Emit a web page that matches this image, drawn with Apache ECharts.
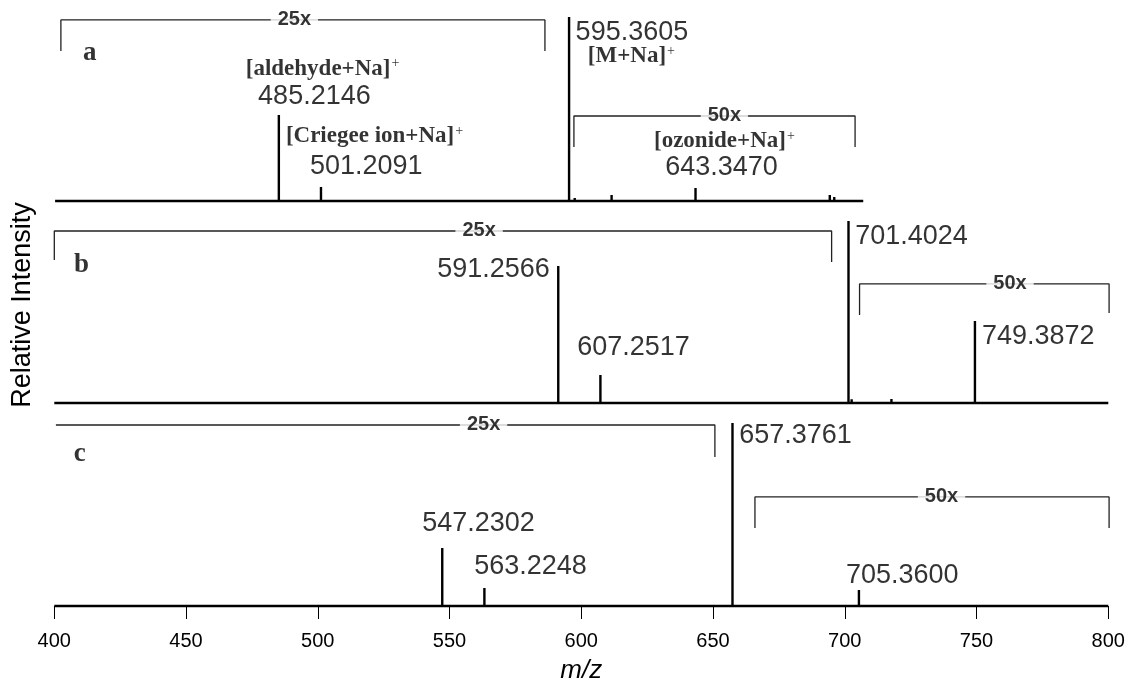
<!DOCTYPE html>
<html><head><meta charset="utf-8">
<script src="https://cdn.jsdelivr.net/npm/echarts@6/dist/echarts.min.js"></script>
<style>html,body{margin:0;padding:0;background:#fff}#c{width:1128px;height:681px}</style>
</head><body><div id="c"></div><script>
// ---------- data ----------
const xTicks = [400, 450, 500, 550, 600, 650, 700, 750, 800];

// panel a (relative displayed intensity, % of panel)
const aMz  = [426.8, 455.3, 485.2146, 501.2091, 595.3605, 597.5, 599.5, 611.5, 643.3470, 694.3, 696.0];
const aInt = [0.8, 0.8, 46.7, 7.6, 100, 1.6, 1.0, 3.3, 7.1, 3.3, 2.2];
const aSpan = [400.3, 707];

// panel b
const bMz  = [425.0, 480.0, 590.3, 591.2566, 606.3, 607.2517, 701.4024, 702.6, 717.7, 749.3872, 788.6];
const bInt = [0.8, 1.0, 0.8, 75.3, 1.0, 15.4, 100, 2.0, 2.2, 45.0, 1.0];
const bSpan = [400, 800];

// panel c
const cMz  = [410.0, 430.0, 470.0, 547.2302, 563.2248, 657.3761, 705.3600, 780.0];
const cInt = [0.6, 0.6, 0.6, 31.7, 9.8, 100, 8.7, 0.5];
const cSpan = [400, 800];

// annotations: peak labels and ion names
const aPeakText = ['485.2146', '501.2091', '595.3605', '643.3470'];
const aIonText  = ['[aldehyde+Na]', '[Criegee ion+Na]', '[M+Na]', '[ozonide+Na]'];
const bPeakText = ['591.2566', '607.2517', '701.4024', '749.3872'];
const cPeakText = ['547.2302', '563.2248', '657.3761', '705.3600'];
const panelNames = ['a', 'b', 'c'];
const zoomText = ['25x', '50x'];

// ---------- layout (positions in data units of each panel) ----------
const aPeakPos = [[498.9, 56.5], [518.6, 18.5], [619.4, 91.3], [653.4, 17.9]];
const aIonPos  = [[502.0, 71.7], [521.7, 34.8], [619.2, 78.3], [654.5, 32.1]];
const bPeakPos = [[566.9, 73.1], [620.0, 30.2], [725.5, 91.2], [773.6, 36.3]];
const cPeakPos = [[561.2, 44.8], [580.9, 21.3], [681.5, 92.9], [722.0, 16.4]];
const namePos  = [[413.6, 80.4], [410.5, 75.8], [409.8, 82.5]];
const brackets = [
  // [panel, path, label position, text index]
  [0, [[402.5, 81.5], [402.5, 98.4], [586.2, 98.4], [586.2, 81.5]], [491.3, 98.4], 0],
  [0, [[597.2, 29.3], [597.2, 46.2], [703.9, 46.2], [703.9, 29.3]], [654.5, 46.2], 1],
  [1, [[400.0, 78.6], [400.0, 94.5], [695.0, 94.5], [695.0, 77.5]], [561.4, 94.5], 0],
  [1, [[705.6, 48.4], [705.6, 65.4], [800.3, 65.4], [800.3, 49.5]], [762.9, 65.4], 1],
  [2, [[400.6, 98.9], [650.7, 98.9], [650.7, 81.4]], [563.1, 98.9], 0],
  [2, [[665.9, 42.6], [665.9, 59.6], [800.3, 59.6], [800.3, 42.6]], [736.9, 59.6], 1]
];

const SANS = '"Liberation Sans", Arial, sans-serif';
const SERIF = '"Liberation Serif", "Times New Roman", serif';

function sticks(mz, inten, span) {
  const pts = [[span[0], 0]];
  mz.forEach((m, i) => { pts.push([m, 0], [m, inten[i]], [m, 0]); });
  pts.push([span[1], 0]);
  return pts;
}

const grids = [
  { left: 54.3, right: 19.7, top: 17, height: 184, outerBoundsMode: 'none', containLabel: false },
  { left: 54.3, right: 19.7, top: 221, height: 182, outerBoundsMode: 'none', containLabel: false },
  { left: 54.3, right: 19.7, top: 423, height: 183, outerBoundsMode: 'none', containLabel: false }
];

const xAxes = [0, 1, 2].map(i => ({
  type: 'value', gridIndex: i, min: xTicks[0], max: xTicks[xTicks.length - 1],
  interval: xTicks[1] - xTicks[0], show: i === 2, offset: i === 2 ? 4 : 0,
  axisLine: { show: true, lineStyle: { color: '#000', width: 1 } },
  axisTick: { show: true, inside: false, length: 13, lineStyle: { color: '#000', width: 1 } },
  axisLabel: { show: true, color: '#000', fontFamily: SANS, fontSize: 20, margin: 21 },
  splitLine: { show: false },
  name: i === 2 ? 'm/z' : '', nameLocation: 'middle', nameGap: 48,
  nameTextStyle: { fontFamily: SANS, fontSize: 26, fontStyle: 'italic', color: '#000' }
}));

const yAxes = [0, 1, 2].map(i => ({
  type: 'value', gridIndex: i, min: 0, max: 100,
  axisLine: { show: false }, axisTick: { show: false }, axisLabel: { show: false },
  splitLine: { show: false },
  name: i === 1 ? 'Relative Intensity' : '', nameLocation: 'middle', nameRotate: 90, nameGap: 18,
  nameTextStyle: { fontFamily: SANS, fontSize: 27, color: '#000', padding: [0, 0, 0, 14] }
}));

const series = [];
const spectra = [[aMz, aInt, aSpan], [bMz, bInt, bSpan], [cMz, cInt, cSpan]];
spectra.forEach((s, i) => {
  series.push({
    type: 'line', xAxisIndex: i, yAxisIndex: i, data: sticks(s[0], s[1], s[2]),
    symbol: 'none', clip: false, silent: true, z: 3,
    lineStyle: { color: '#000', width: 2.4 }
  });
});

brackets.forEach(b => {
  series.push({
    type: 'line', xAxisIndex: b[0], yAxisIndex: b[0], data: b[1], symbol: 'none',
    clip: false, silent: true, z: 2, lineStyle: { color: '#222', width: 1.3 }
  });
});

function textSeries(i, items) {
  return {
    type: 'scatter', xAxisIndex: i, yAxisIndex: i, symbolSize: 1, clip: false, silent: true, z: 5,
    itemStyle: { color: 'rgba(0,0,0,0)' },
    data: items.map(it => ({
      value: it.pos,
      label: Object.assign({
        show: true, position: [0, 0], align: 'center', verticalAlign: 'middle',
        formatter: it.text, color: '#000', textBorderWidth: 0
      }, it.style)
    }))
  };
}

const peakStyle = { fontFamily: SANS, fontSize: 27 };
const ionStyle = {
  rich: {
    i: { fontFamily: SERIF, fontWeight: 'bold', fontSize: 23, color: '#000' },
    s: { fontFamily: SERIF, fontSize: 14, color: '#000', padding: [0, 0, 10, 1] }
  }
};
const nameStyle = { fontFamily: SERIF, fontWeight: 'bold', fontSize: 27 };
const zoomStyle = { fontFamily: SANS, fontWeight: 'bold', fontSize: 20, backgroundColor: '#fff', padding: [0, 7] };

const peakSets = [[aPeakText, aPeakPos], [bPeakText, bPeakPos], [cPeakText, cPeakPos]];
peakSets.forEach((p, i) => {
  const items = p[0].map((t, k) => ({ text: t, pos: p[1][k], style: peakStyle }));
  items.push({ text: panelNames[i], pos: namePos[i], style: nameStyle });
  if (i === 0) {
    aIonText.forEach((t, k) => items.push({ text: '{i|' + t + '}{s|+}', pos: aIonPos[k], style: ionStyle }));
  }
  brackets.filter(b => b[0] === i).forEach(b => items.push({ text: zoomText[b[3]], pos: b[2], style: zoomStyle }));
  series.push(textSeries(i, items));
});

const chart = echarts.init(document.getElementById('c'), null, { renderer: 'canvas' });
chart.setOption({
  backgroundColor: '#fff',
  animation: false,
  grid: grids,
  xAxis: xAxes,
  yAxis: yAxes,
  series: series
});
</script></body></html>
